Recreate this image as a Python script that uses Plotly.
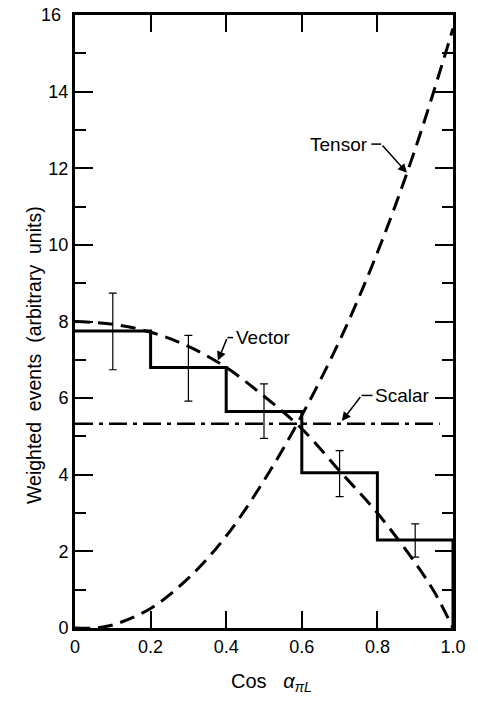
import plotly.graph_objects as go

# ---- data ----
bin_edges = [0.0, 0.2, 0.4, 0.6, 0.8, 1.0]
hist_counts = [7.75, 6.8, 5.65, 4.05, 2.3]
bin_centers = [0.1, 0.3, 0.5, 0.7, 0.9]
err_up = [0.99, 0.84, 0.72, 0.58, 0.42]
err_down = [1.01, 0.88, 0.70, 0.62, 0.45]

vector_x = [0.0, 0.1, 0.2, 0.3, 0.4, 0.5, 0.6, 0.7, 0.8, 0.9, 0.95, 1.0]
vector_y = [8.0, 7.93, 7.72, 7.35, 6.8, 6.05, 5.2, 4.1, 3.0, 1.7, 0.95, 0.0]

tensor_x = [0.0, 0.05, 0.1, 0.2, 0.3, 0.4, 0.5, 0.6, 0.7, 0.8, 0.9, 1.0]
tensor_y = [0.0, 0.0, 0.08, 0.51, 1.3, 2.4, 3.85, 5.55, 7.5, 9.8, 12.5, 15.65]

scalar_x = [0.0, 0.965]
scalar_y = [5.33, 5.33]

x_ticks = [0, 0.2, 0.4, 0.6, 0.8, 1.0]
x_ticktext = ["0", "0.2", "0.4", "0.6", "0.8", "1.0"]
y_ticks = [0, 2, 4, 6, 8, 10, 12, 14, 16]
y_ticktext = ["0", "2", "4", "6", "8", "10", "12", "14", "16"]

FONT = "Liberation Sans, Arial, sans-serif"

fig = go.Figure()

# histogram as step line
hx = bin_edges + [bin_edges[-1]]
hy = hist_counts + [hist_counts[-1], 0]
fig.add_trace(go.Scatter(x=hx, y=hy, mode="lines", line=dict(color="black", width=3, shape="hv"),
                         hoverinfo="skip", showlegend=False))

# error bars
fig.add_trace(go.Scatter(x=bin_centers, y=hist_counts, mode="markers",
                         marker=dict(size=1, color="rgba(0,0,0,0)"),
                         error_y=dict(type="data", symmetric=False, array=err_up, arrayminus=err_down,
                                      color="black", thickness=1.2, width=4),
                         hoverinfo="skip", showlegend=False))

# theory curves
fig.add_trace(go.Scatter(x=vector_x, y=vector_y, mode="lines", line_shape="spline",
                         line=dict(color="black", width=3, dash="15px,8px"), showlegend=False))
fig.add_trace(go.Scatter(x=tensor_x, y=tensor_y, mode="lines", line_shape="spline",
                         line=dict(color="black", width=3, dash="15px,8px"), showlegend=False))
fig.add_trace(go.Scatter(x=scalar_x, y=scalar_y, mode="lines",
                         line=dict(color="black", width=2.5, dash="18px,6px,4px,6px"), showlegend=False))

# labels with leader lines
labels = [
    dict(text="Tensor", tx=0.784, ty=12.63, anchor="right", bend=(0.810, 12.63), tip=(0.878, 11.88)),
    dict(text="Vector", tx=0.418, ty=7.58, anchor="left", bend=(0.403, 7.58), tip=(0.378, 6.98)),
    dict(text="Scalar", tx=0.787, ty=6.07, anchor="left", bend=(0.758, 6.07), tip=(0.706, 5.40)),
]
for lb in labels:
    fig.add_annotation(x=lb["tx"], y=lb["ty"], xref="x", yref="y", text=lb["text"], showarrow=False,
                       xanchor=lb["anchor"], yanchor="middle", xshift=(-1 if lb["anchor"] == "right" else 1),
                       font=dict(family=FONT, size=19, color="black"))
    fig.add_shape(type="line", xref="x", yref="y", x0=lb["tx"], y0=lb["ty"], x1=lb["bend"][0], y1=lb["bend"][1],
                  line=dict(color="black", width=1.5))
    fig.add_annotation(x=lb["tip"][0], y=lb["tip"][1], xref="x", yref="y", axref="x", ayref="y",
                       ax=lb["bend"][0], ay=lb["bend"][1], text="", showarrow=True,
                       arrowhead=2, arrowsize=1.2, arrowwidth=1.5, arrowcolor="black")

# top tick label drawn as annotation so it does not push the top margin
fig.add_annotation(x=0, y=y_ticks[-1], xref="paper", yref="y", text=y_ticktext[-1], showarrow=False,
                   xanchor="right", yanchor="middle", xshift=-12,
                   font=dict(family=FONT, size=18, color="black"))
y_axis_text = y_ticktext[:-1] + [""]

# axis titles
fig.add_annotation(x=-0.109, y=0.445, xref="paper", yref="paper", xanchor="center", yanchor="middle",
                   text="Weighted  events  (arbitrary  units)",
                   textangle=-90, showarrow=False, font=dict(family=FONT, size=19.5, color="black"))
fig.add_annotation(x=0.52, y=-0.0896, xref="paper", yref="paper", xanchor="center", yanchor="middle",
                   text="Cos   <i>α</i><sub><i>πL</i></sub>", showarrow=False,
                   font=dict(family=FONT, size=20, color="black"))

fig.update_layout(
    width=478, height=701,
    margin=dict(l=75, r=18, t=14, b=73),
    paper_bgcolor="white", plot_bgcolor="white",
    showlegend=False,
    xaxis=dict(range=[0, 1.0], tickvals=x_ticks, ticktext=x_ticktext, ticks="inside", ticklen=17,
               tickwidth=1.5, tickcolor="black", showline=True, linecolor="black", linewidth=3,
               mirror="allticks", showgrid=False, zeroline=False,
               tickfont=dict(family=FONT, size=18, color="black")),
    yaxis=dict(range=[0, 16], tickvals=y_ticks, ticktext=y_axis_text, ticks="inside", ticklen=18, tickwidth=1.5,
               tickcolor="black", showline=True, linecolor="black", linewidth=3, mirror="allticks",
               showgrid=False, zeroline=False,
               minor=dict(dtick=1, ticks="inside", ticklen=11, tickwidth=1.5, tickcolor="black", showgrid=False),
               tickfont=dict(family=FONT, size=18, color="black")),
)

fig.write_html("out.html")
